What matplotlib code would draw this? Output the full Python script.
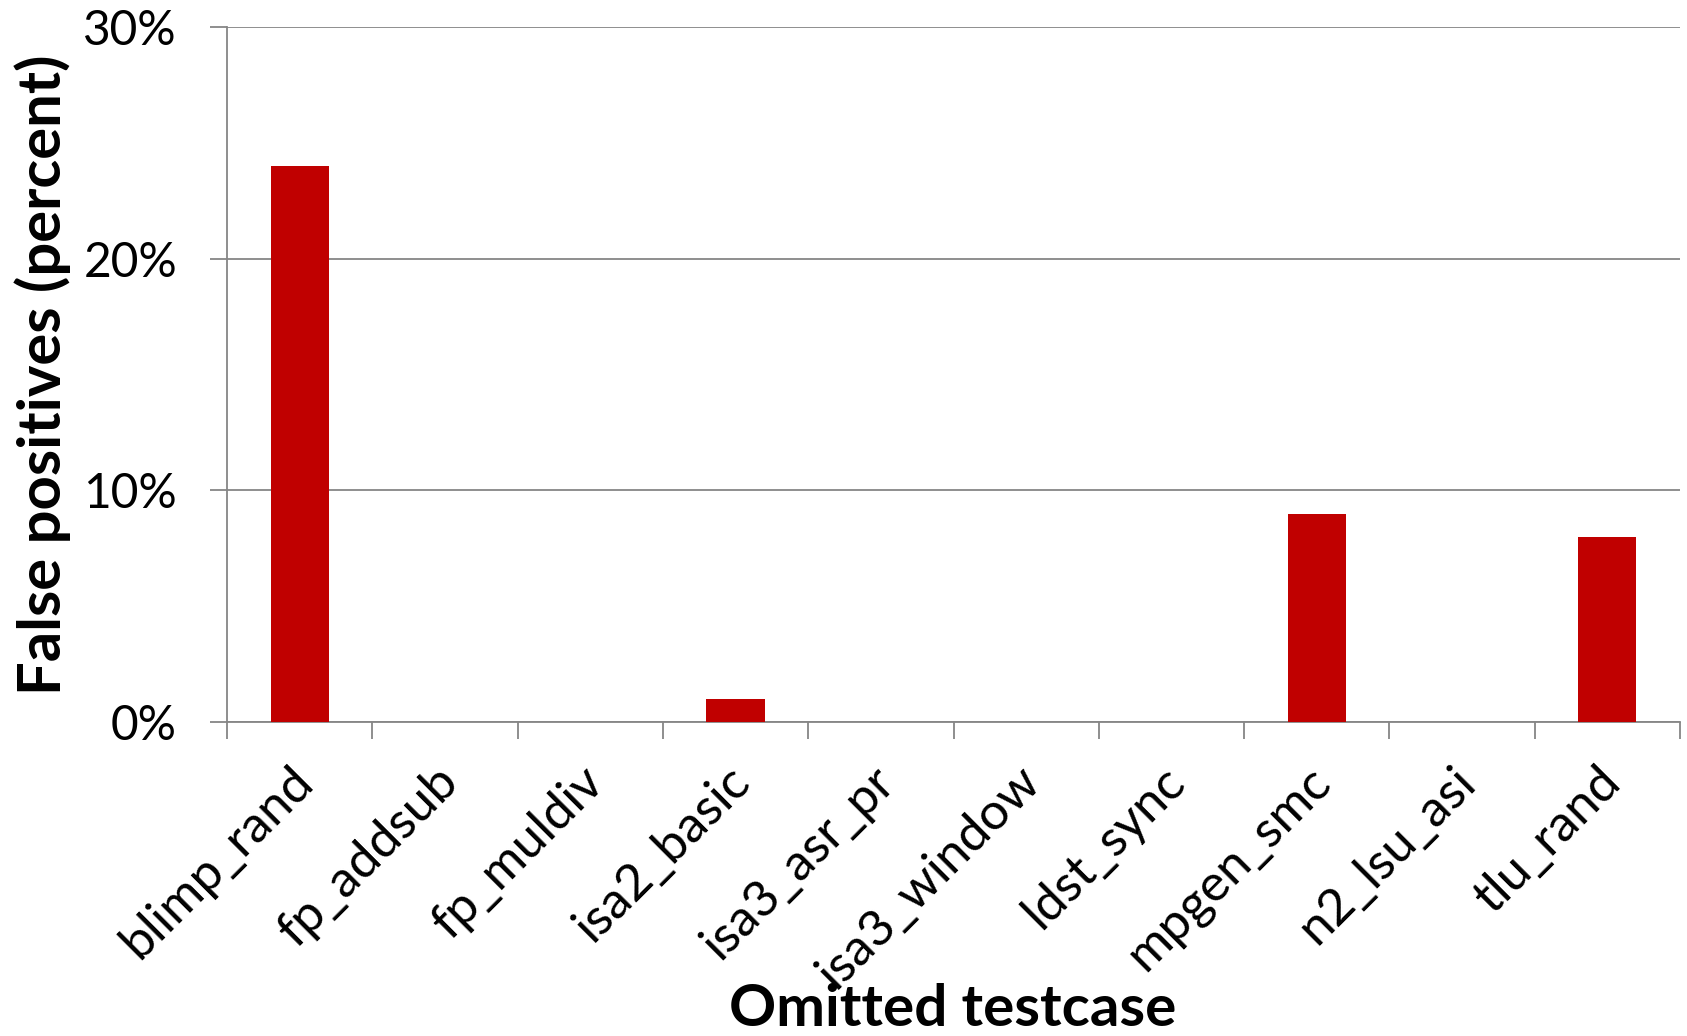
import matplotlib
matplotlib.use("Agg")
import matplotlib.pyplot as plt
import matplotlib.transforms as mtransforms
from matplotlib.ticker import FuncFormatter, MultipleLocator

testcases = ["blimp_rand", "fp_addsub", "fp_muldiv", "isa2_basic", "isa3_asr_pr",
             "isa3_window", "ldst_sync", "mpgen_smc", "n2_lsu_asi", "tlu_rand"]
false_positives = [24, 0, 0, 1, 0, 0, 0, 9, 0, 8]

plt.rcParams["font.family"] = ["Lato", "DejaVu Sans"]

W, H = 1687, 1036
fig = plt.figure(figsize=(W / 100, H / 100), dpi=100)
ax = fig.add_axes([227 / W, 1 - 722 / H, (1680 - 227) / W, (722 - 27) / H])

grid_c = "#868686"
x = range(len(testcases))
ax.bar(x, false_positives, width=0.4, color="#C00000", zorder=3)

ax.set_xlim(-0.5, len(testcases) - 0.5)
ax.set_ylim(0, 30)
ax.yaxis.set_major_locator(MultipleLocator(10))
ax.yaxis.set_major_formatter(FuncFormatter(lambda v, p: f"{v:.0f}%"))
ax.grid(axis="y", color=grid_c, linewidth=1.3, zorder=0)

# category labels centred on bars, tick marks at category boundaries
ax.set_xticks(list(x))
ax.set_xticklabels(testcases, rotation=45, ha="right", va="top",
                   rotation_mode="anchor", fontsize=37)
ax.set_xticks([i - 0.5 for i in range(len(testcases) + 1)], minor=True)
ax.tick_params(axis="x", which="major", length=0, pad=26)
ax.tick_params(axis="x", which="minor", length=12, width=1.3, color=grid_c)
ax.tick_params(axis="y", length=12, width=1.3, color=grid_c, pad=24, labelsize=34.5)

shift = mtransforms.ScaledTranslation(-10 / 100, 0, fig.dpi_scale_trans)
for lbl in ax.get_xticklabels():
    lbl.set_transform(lbl.get_transform() + shift)

for s in ("top", "right"):
    ax.spines[s].set_visible(False)
for s in ("left", "bottom"):
    ax.spines[s].set_color(grid_c)
    ax.spines[s].set_linewidth(1.3)

fig.text(43 / W, 1 - 375 / H, "False positives (percent)", rotation=90,
         ha="center", va="center", fontsize=43, fontweight="bold")
fig.text(953 / W, 1 - 1010 / H, "Omitted testcase", ha="center", va="center",
         fontsize=42, fontweight="bold")

fig.savefig("out.png", dpi=100, facecolor="white")
